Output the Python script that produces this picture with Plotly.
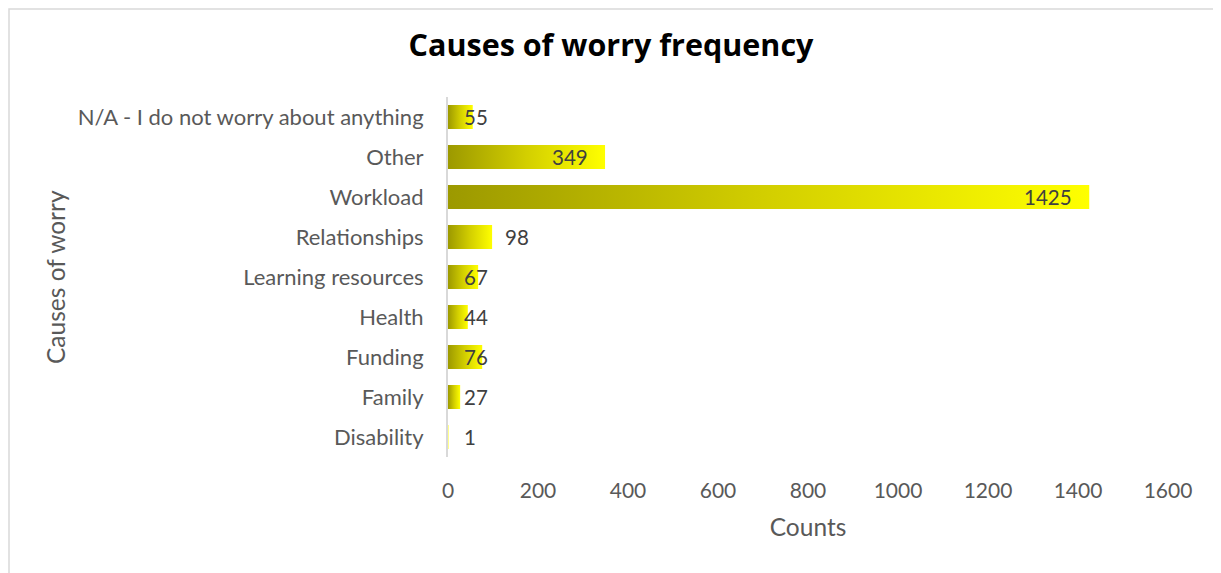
import plotly.graph_objects as go

categories = ["Disability", "Family", "Funding", "Health", "Learning resources",
              "Relationships", "Workload", "Other", "N/A - I do not worry about anything"]
counts = [1, 27, 76, 44, 67, 98, 1425, 349, 55]
label_pos = ["base", "base", "base", "base", "base", "out", "end", "end", "base"]
x_ticks = [0, 200, 400, 600, 800, 1000, 1200, 1400, 1600]

FONT = "Lato"
TXT = "#595959"
half = 0.3

L, T, PW, PH = 440, 89, 720, 360

fig = go.Figure()
for i, v in enumerate(counts):
    fig.add_trace(go.Scatter(
        x=[0, v, v, 0, 0],
        y=[i - half, i - half, i + half, i + half, i - half],
        mode="lines", line=dict(width=0), fill="toself",
        fillgradient=dict(type="horizontal",
                          colorscale=[[0, "#9c9900"], [0.5, "#d3cf00"], [1, "#ffff00"]]),
        hoverinfo="skip", showlegend=False,
    ))

for i, (v, p) in enumerate(zip(counts, label_pos)):
    if p == "end":
        ax, xa, xs = v, "right", -15
    elif p == "out":
        ax, xa, xs = v, "left", 11
    else:
        ax, xa, xs = 0, "left", 14
    fig.add_annotation(x=ax, y=i, text=str(v), showarrow=False, xanchor=xa, xshift=xs,
                       font=dict(family=FONT, size=20.5, color="#404040"))

fig.add_annotation(xref="paper", yref="paper", x=(47 - L) / PW, y=0.5,
                   xanchor="center", yanchor="middle",
                   text="Causes of worry", textangle=-90, showarrow=False,
                   font=dict(family=FONT, size=24.5, color=TXT))

fig.add_shape(type="rect", xref="paper", yref="paper",
              x0=(1 - L) / PW, x1=(1210 - L) / PW,
              y0=(T + PH - 600) / PH, y1=(T + PH - 1) / PH,
              line=dict(color="#d9d9d9", width=1.5), layer="below")

fig.update_layout(
    width=1221, height=573,
    margin=dict(l=L, r=1221 - L - PW, t=T, b=573 - T - PH),
    paper_bgcolor="white", plot_bgcolor="white",
    title=dict(text="<b>Causes of worry frequency</b>", x=603 / 1221, xanchor="center",
               y=1 - 37 / 573, yanchor="middle", yref="container",
               font=dict(family="Open Sans", size=30.5, color="#000000")),
    xaxis=dict(range=[0, 1600], tickvals=x_ticks, ticktext=[str(t) for t in x_ticks],
               showgrid=False, zeroline=False, showline=False, ticks="",
               ticklabelstandoff=19,
               tickfont=dict(family=FONT, size=21, color=TXT),
               title=dict(text="Counts", standoff=17, font=dict(family=FONT, size=24.5, color=TXT))),
    yaxis=dict(range=[-0.5, len(categories) - 0.5], tickvals=list(range(len(categories))),
               ticktext=categories, showgrid=False, zeroline=False,
               showline=True, linecolor="#d9d9d9", linewidth=2, ticks="",
               ticklabelstandoff=18,
               tickfont=dict(family=FONT, size=22, color=TXT)),
)

fig.write_html("out.html")
